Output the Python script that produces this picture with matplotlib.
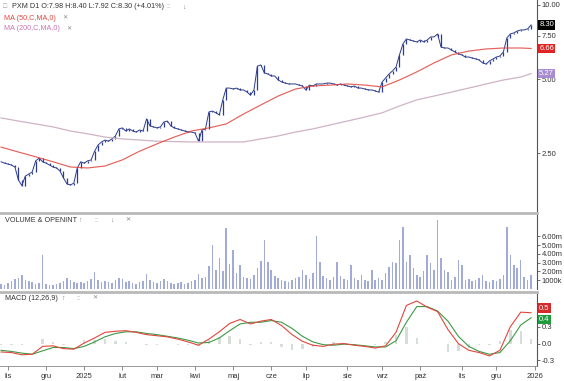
import numpy as np
import pandas as pd
import matplotlib
matplotlib.use("Agg")
import matplotlib.pyplot as plt
from matplotlib.ticker import NullLocator

plt.rcParams["font.family"] = ["Liberation Sans", "DejaVu Sans"]

# --- data (one value per 2 sessions) ---
START = "2024-10-28"

closes = [
    2.31, 2.28, 2.26, 2.24, 2.20, 1.95, 1.85, 2.02, 2.06, 2.10,
    2.33, 2.39, 2.31, 2.28, 2.24, 2.20, 2.18, 2.12, 1.99, 1.88,
    1.86, 1.89, 2.18, 2.31, 2.28, 2.33, 2.35, 2.55, 2.70, 2.78,
    2.83, 2.80, 2.86, 2.94, 3.14, 3.17, 3.08, 3.14, 3.08, 3.05,
    3.11, 3.08, 3.45, 3.23, 3.20, 3.17, 3.20, 3.35, 3.38, 3.23,
    3.17, 3.14, 3.11, 3.08, 3.05, 3.05, 3.02, 2.80, 3.11, 3.14,
    3.68, 3.71, 3.65, 3.58, 4.12, 4.60, 4.60, 4.56, 4.60, 4.52,
    4.52, 4.43, 4.31, 4.52, 5.65, 5.71, 5.30, 5.25, 5.15, 5.15,
    4.96, 4.87, 4.82, 4.78, 4.78, 4.78, 4.73, 4.69, 4.52, 4.73,
    4.69, 4.78, 4.78, 4.78, 4.82, 4.82, 4.78, 4.73, 4.78, 4.73,
    4.69, 4.65, 4.69, 4.60, 4.60, 4.56, 4.52, 4.52, 4.48, 4.43,
    4.87, 5.06, 5.25, 5.40, 5.60, 6.27, 6.95, 7.28, 7.21, 7.14,
    7.08, 7.21, 7.08, 7.21, 7.42, 7.42, 7.63, 6.75, 6.69, 6.69,
    6.57, 6.45, 6.33, 6.27, 6.15, 6.15, 6.09, 6.04, 5.98, 5.82,
    5.76, 5.93, 6.04, 6.15, 6.21, 6.45, 7.35, 7.63, 7.70, 7.84,
    7.92, 7.92, 8.00, 8.30,
]

volume_m = [
    0.6, 0.5, 0.7, 0.9, 1.1, 1.2, 1.6, 1.0, 0.9, 0.8,
    0.6, 0.7, 3.9, 0.6, 0.5, 0.5, 0.6, 0.7, 0.9, 1.3,
    1.0, 0.8, 0.7, 0.8, 0.7, 0.9, 1.1, 1.9, 1.0, 0.8,
    0.9, 0.8, 0.7, 1.0, 1.3, 1.1, 0.8, 0.9, 0.7, 0.6,
    0.8, 0.9, 1.7, 1.0, 0.8, 0.7, 0.9, 1.1, 0.9, 0.7,
    0.6, 0.7, 0.8, 0.6, 0.7, 0.9, 1.0, 1.7, 1.2, 1.4,
    2.6, 5.0, 2.2, 3.5, 2.0, 6.9, 2.8, 4.4, 1.8, 2.7,
    1.4, 1.2, 1.1, 1.6, 2.4, 3.2, 5.6, 3.1, 2.2, 1.5,
    1.2, 1.0, 0.9, 0.8, 1.0, 1.2, 1.4, 2.2, 1.6, 1.1,
    1.8, 6.0, 3.1, 1.5, 1.2, 1.0, 1.4, 3.1, 1.5, 1.1,
    1.0, 2.7, 1.3, 1.0, 1.6, 1.0, 0.9, 2.2, 1.0, 1.3,
    1.0, 1.8, 2.5, 3.1, 2.9, 5.6, 7.0, 3.1, 3.9, 2.4,
    1.6, 1.4, 2.0, 3.9, 2.9, 2.2, 7.8, 3.5, 2.2, 1.9,
    1.0, 1.4, 3.3, 2.7, 1.0, 1.1, 0.9, 1.0, 1.3, 1.6,
    0.9, 0.8, 1.0, 0.9, 1.1, 1.6, 7.0, 3.9, 2.7, 2.4,
    3.3, 1.4, 1.0, 1.6,
]

ma_idx = list(range(0, 151, 5)) + [153]
ma50 = [2.65, 2.53, 2.42, 2.31, 2.20, 2.18, 2.22, 2.35, 2.55, 2.73,
        2.91, 3.08, 3.17, 3.29, 3.61, 3.93, 4.27, 4.56, 4.69, 4.73,
        4.78, 4.73, 4.65, 4.96, 5.35, 5.82, 6.27, 6.50, 6.63, 6.69,
        6.69, 6.66]
ma200 = [3.48, 3.38, 3.29, 3.20, 3.08, 3.00, 2.91, 2.86, 2.83, 2.80,
         2.79, 2.78, 2.78, 2.78, 2.78, 2.86, 2.94, 3.05, 3.14, 3.26,
         3.38, 3.51, 3.65, 3.89, 4.12, 4.27, 4.43, 4.60, 4.78, 4.96,
         5.10, 5.27]

macd_idx = list(range(0, 154, 3))
macd = [-0.15, -0.16, -0.20, -0.19, -0.05, -0.04, -0.09, -0.10, 0.01, 0.10,
        0.20, 0.22, 0.23, 0.20, 0.16, 0.14, 0.12, 0.08, 0.03, -0.03,
        0.08, 0.21, 0.36, 0.43, 0.35, 0.40, 0.43, 0.32, 0.16, 0.04,
        -0.03, -0.05, -0.01, 0.00, -0.03, -0.05, -0.08, -0.04, 0.20, 0.68,
        0.76, 0.65, 0.57, 0.25, 0.00, -0.12, -0.16, -0.22, -0.12, 0.30,
        0.56, 0.55]
signal = [-0.12, -0.14, -0.17, -0.19, -0.13, -0.07, -0.07, -0.09, -0.05, 0.03,
          0.12, 0.18, 0.21, 0.21, 0.18, 0.16, 0.13, 0.10, 0.06, 0.01,
          0.02, 0.10, 0.23, 0.35, 0.38, 0.38, 0.41, 0.38, 0.27, 0.13,
          0.03, -0.02, -0.03, -0.01, -0.02, -0.04, -0.06, -0.06, 0.05, 0.38,
          0.66, 0.66, 0.58, 0.40, 0.13, -0.05, -0.14, -0.19, -0.16, 0.05,
          0.33, 0.46]

month_labels = ["lis", "gru", "2025", "lut", "mar", "kwi", "maj", "cze",
                "lip", "sie", "wrz", "pa\u017a", "lis", "gru", "2026"]

price_ticks = [2.5, 5.0, 7.5, 10.0]
vol_ticks = [1, 2, 3, 4, 5, 6]
vol_labels = ["1000k", "2.00m", "3.00m", "4.00m", "5.00m", "6.00m"]
macd_ticks = [-0.3, 0.0, 0.3]

# --- colours ---
NAVY = "#2b3b8e"
RED = "#e0463e"
PINK = "#cfb3c6"
PURPLE = "#a88ccf"
VOLC = "#a2aad8"
GREEN = "#3c9a46"
GRID_SEP = "#b9b9b9"
TXT = "#333333"

W, H = 564, 381
fig = plt.figure(figsize=(W / 100, H / 100), dpi=100)


def px_axes(top, bottom, right=537):
    return fig.add_axes([0, 1 - bottom / H, right / W, (bottom - top) / H])


ax_p = px_axes(0, 211)
ax_v = px_axes(213, 289)
ax_m = px_axes(292, 366)

n = len(closes)
x = np.arange(n)
days = pd.bdate_range(START, periods=2 * n)[::2]
per = days.to_period("M")
month_pos = [i for i in range(1, n) if per[i] != per[i - 1]] + [n]

for ax in (ax_p, ax_v, ax_m):
    ax.set_xlim(-0.3, 154.7)
    for s in ("left", "top", "bottom"):
        ax.spines[s].set_visible(False)
    ax.spines["right"].set_color("#555555")
    ax.spines["right"].set_linewidth(0.8)
    ax.yaxis.tick_right()
    ax.tick_params(axis="y", labelsize=5.5, labelcolor=TXT, length=2.5,
                   width=0.6, color="#555555", pad=1)
    ax.set_xticks([])

# --- price panel ---
c = np.array(closes)
ax_p.vlines(x[1:], np.minimum(c[:-1], c[1:]), np.maximum(c[:-1], c[1:]),
            color=NAVY, lw=0.9)
ax_p.plot(x, c, color=NAVY, lw=0.7)
ax_p.plot(ma_idx, ma200, color=PINK, lw=0.9)
ax_p.plot(ma_idx, ma50, color=RED, lw=0.85, alpha=0.85)
ax_p.set_yscale("log")
ax_p.set_ylim(1.458, 10.478)
ax_p.set_yticks(price_ticks)
ax_p.set_yticklabels([f"{t:.2f}" for t in price_ticks])
ax_p.yaxis.set_minor_locator(NullLocator())

box_kw = dict(boxstyle="square,pad=0.18", lw=0)
ax_p.text(1.004, closes[-1], f"{closes[-1]:.2f}", transform=ax_p.get_yaxis_transform(),
          fontsize=5.5, color="white", va="center", ha="left",
          bbox=dict(fc="black", **box_kw), zorder=5)
ax_p.text(1.004, ma50[-1], f"{ma50[-1]:.2f}", transform=ax_p.get_yaxis_transform(),
          fontsize=5.5, color="white", va="center", ha="left",
          bbox=dict(fc="#e02424", **box_kw), zorder=5)
ax_p.text(1.004, ma200[-1], f"{ma200[-1]:.2f}", transform=ax_p.get_yaxis_transform(),
          fontsize=5.5, color="white", va="center", ha="left",
          bbox=dict(fc=PURPLE, **box_kw), zorder=5)

# --- volume panel ---
ax_v.bar(x, volume_m, width=0.45, color=VOLC, lw=0)
ax_v.set_ylim(0, 8.64)
ax_v.set_yticks(vol_ticks)
ax_v.set_yticklabels(vol_labels)
ax_v.spines["top"].set_visible(True)
ax_v.spines["top"].set_color(GRID_SEP)
ax_v.spines["top"].set_linewidth(2)

# --- MACD panel ---
hist = np.array(macd) - np.array(signal)
ax_m.bar(macd_idx, hist, width=0.7, color="#d7ded7", lw=0)
ax_m.plot(macd_idx, signal, color=GREEN, lw=0.8)
ax_m.plot(macd_idx, macd, color=RED, lw=0.8)
ax_m.set_ylim(-0.40, 0.92)
ax_m.set_yticks(macd_ticks)
ax_m.set_yticklabels(["-0.3", "0.0", "0.3"])
ax_m.spines["top"].set_visible(True)
ax_m.spines["top"].set_color(GRID_SEP)
ax_m.spines["top"].set_linewidth(2)
ax_m.spines["bottom"].set_visible(True)
ax_m.spines["bottom"].set_color("#888888")
ax_m.spines["bottom"].set_linewidth(0.6)
ax_m.set_xticks(month_pos)
ax_m.set_xticklabels(month_labels)
ax_m.tick_params(axis="x", labelsize=5.5, labelcolor=TXT, length=3,
                 width=0.6, color="#777777", pad=2)

ax_m.text(1.004, 0.63, "0.5", transform=ax_m.get_yaxis_transform(),
          fontsize=5.5, color="white", va="center", ha="left",
          bbox=dict(fc="#d42a2a", **box_kw), zorder=5)
ax_m.text(1.004, 0.43, "0.4", transform=ax_m.get_yaxis_transform(),
          fontsize=5.5, color="white", va="center", ha="left",
          bbox=dict(fc="#1f9a3c", **box_kw), zorder=6)


# --- header texts ---
def ftext(xp, yp, s, **kw):
    kw.setdefault("fontsize", 5.2)
    kw.setdefault("color", TXT)
    fig.text(xp / W, 1 - yp / H, s, va="center", ha="left", **kw)


ftext(3, 7, "\u25a1", color="#999999", fontsize=5)
ftext(12, 7, "PXM D1 O:7.98 H:8.40 L:7.92 C:8.30 (+4.01%)")
ftext(166, 7, "::", color="#888888")
ftext(182, 7, "\u2193", color="#888888")
ftext(4, 18, "MA (50,C,MA,0)", color=RED)
ftext(62, 18, "\u2715", color="#888888", fontsize=4.5)
ftext(4, 29, "MA (200,C,MA,0)", color="#c873b6")
ftext(66, 29, "\u2715", color="#888888", fontsize=4.5)

ftext(5, 220, "VOLUME & OPENINT")
ftext(78, 220, "\u2191", color="#888888")
ftext(94, 220, "::", color="#888888")
ftext(110, 220, "\u2193", color="#888888")
ftext(125, 220, "\u2715", color="#888888", fontsize=4.5)

ftext(5, 298, "MACD (12,26,9)")
ftext(61, 298, "\u2191", color="#888888")
ftext(76, 298, "::", color="#888888")
ftext(92, 298, "\u2715", color="#888888", fontsize=4.5)

fig.savefig("out.png", dpi=100)
